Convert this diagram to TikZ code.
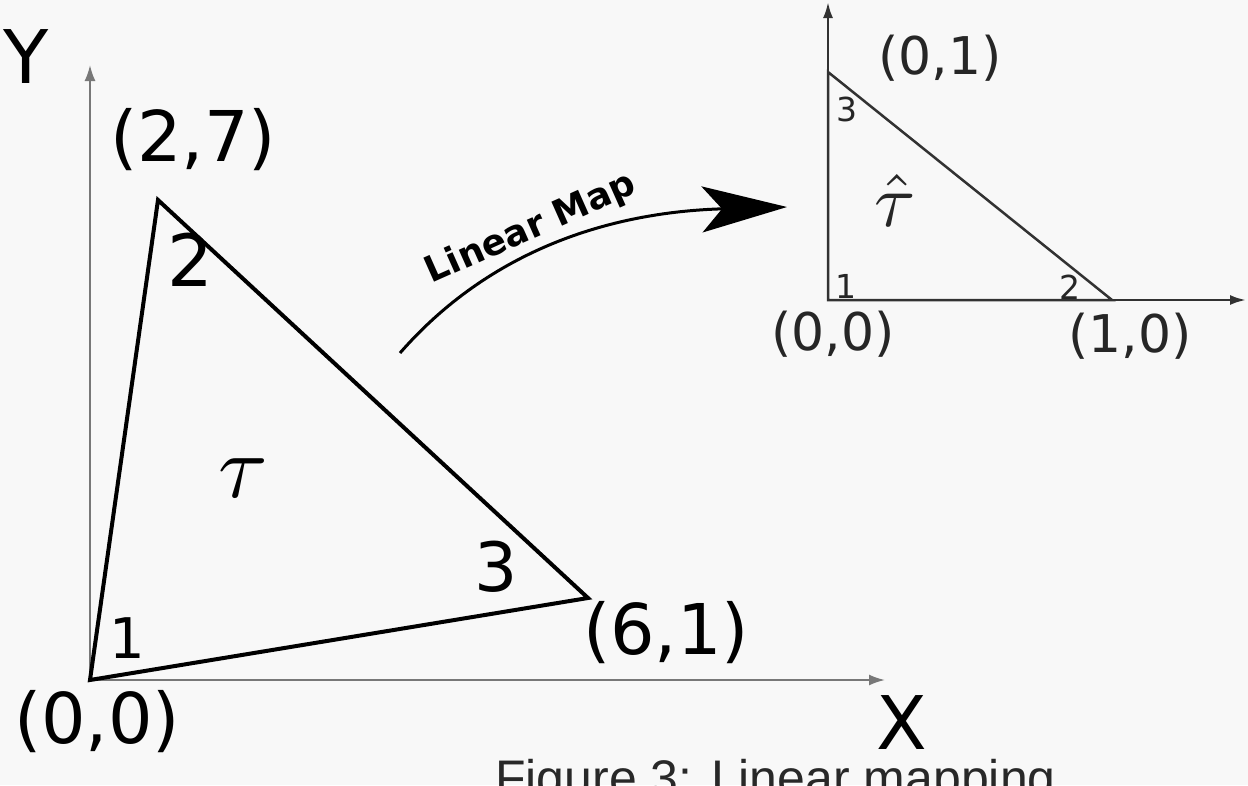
\documentclass[tikz,border=0pt]{standalone}
\usepackage{fontspec}
\setmainfont{DejaVu Sans}
\newfontfamily\capfont{Liberation Sans}
\usetikzlibrary{arrows.meta}
\definecolor{bgc}{RGB}{248,248,248}
\definecolor{axbig}{RGB}{120,120,120}
\definecolor{axsmall}{RGB}{50,50,50}
\definecolor{capc}{RGB}{40,40,40}
\tikzset{
  bigaxis/.style={draw=axbig, line width=2pt, -{Latex[length=16pt,width=11pt]}},
  smallaxis/.style={draw=axsmall, line width=2.5pt, -{Latex[length=16pt,width=10pt]}},
  bigtri/.style={draw=black, line width=4pt, line join=miter},
  smalltri/.style={draw=axsmall, line width=2.5pt, line join=miter},
  biglabel/.style={inner sep=0pt, font=\fontsize{70}{80}\selectfont},
  axlabel/.style={inner sep=0pt, font=\fontsize{74}{84}\selectfont},
  midlabel/.style={inner sep=0pt, font=\fontsize{52}{60}\selectfont, text=black!85},
  tinylabel/.style={inner sep=0pt, font=\fontsize{33}{38}\selectfont, text=black!85},
  maparrow/.style={draw=black, line width=3pt, -{Stealth[length=85pt,width=46pt,inset=20pt]}},
}
\begin{document}
\begin{tikzpicture}[x=1pt,y=-1pt]
\useasboundingbox (0,0) rectangle (1248,785);
\fill[bgc] (0,0) rectangle (1248,785);
\clip (0,0) rectangle (1248,785);
% big system
\coordinate (O) at (90,680);
\coordinate (A) at (158,200);
\coordinate (B) at (588,598);
\coordinate (Ytip) at (90,65);
\coordinate (Xtip) at (885,680);
\draw[bigaxis] (O) -- (Ytip);
\draw[bigaxis] (O) -- (Xtip);
\draw[bigtri] (O) -- (A) -- (B) -- cycle;
\node[axlabel] (Y) at (26,57) {Y};
\node[axlabel] (X) at (902,723) {X};
\node[biglabel] (l27) at (193,140) {(2,7)};
\node[biglabel] (l61) at (666,633) {(6,1)};
\node[biglabel] (l00) at (97,722) {(0,0)};
\node[biglabel, font=\fontsize{72}{80}\selectfont] (n2) at (190,260) {2};
\node[biglabel, font=\fontsize{68}{76}\selectfont] (n3) at (496,567) {3};
\node[biglabel, font=\fontsize{56}{64}\selectfont] (n1) at (127,638) {1};
\node[inner sep=0pt] (tau) at (243,478) {\scalebox{9}{$\tau$}};
% small system
\coordinate (o) at (828,300);
\coordinate (a) at (1112,300);
\coordinate (b) at (828,72);
\coordinate (ytip) at (828,2);
\coordinate (xtip) at (1246,300);
\draw[smallaxis] (o) -- (ytip);
\draw[smallaxis] (o) -- (xtip);
\draw[smalltri] (o) -- (a) -- (b) -- cycle;
\node[midlabel] (s01) at (940,58) {(0,1)};
\node[midlabel] (s00) at (833,334) {(0,0)};
\node[midlabel] (s10) at (1130,336) {(1,0)};
\node[tinylabel] (t3) at (847,109) {3};
\node[tinylabel] (t1) at (846,286) {1};
\node[tinylabel] (t2) at (1070,287) {2};
\node[inner sep=0pt, text=black!85] (tauh) at (895,200) {\scalebox{7.5}{$\hat{\tau}$}};
% map arrow
\coordinate (ms) at (400,353);
\coordinate (me) at (787,207);
\draw[maparrow] (ms) .. controls (490,250) and (610,212) .. (me);
\node[inner sep=0pt, rotate=24, font=\fontsize{36}{40}\selectfont\bfseries] (lm) at (531,229) {Linear Map};
% caption
\node[anchor=base west, inner sep=0pt, text=capc, font=\capfont\fontsize{50}{60}\selectfont] (cap) at (495,795) {Figure 3: Linear mapping};
\end{tikzpicture}
\end{document}
